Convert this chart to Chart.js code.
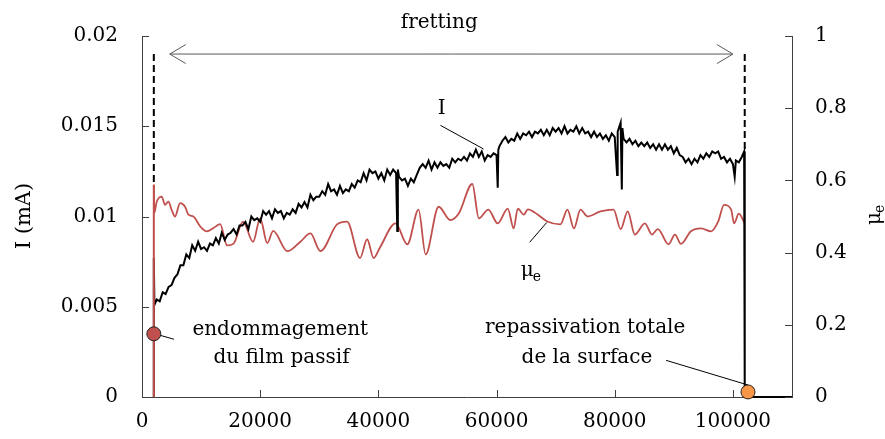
<!DOCTYPE html>
<html lang="fr">
<head>
<meta charset="UTF-8">
<title>Courant et coefficient de frottement</title>
<script src="https://cdn.jsdelivr.net/npm/chart.js"></script>
<style>
  html, body { margin: 0; padding: 0; background: #fff; }
  #wrap { width: 885px; height: 439px; position: relative; }
</style>
</head>
<body>
<div id="wrap"><canvas id="chart"></canvas></div>
<script>
// axis ticks
const xTicks = [0, 20000, 40000, 60000, 80000, 100000];
const leftTicks = [0, 0.005, 0.01, 0.015, 0.02];
const leftLabels = ['0', '0.005', '0.01', '0.015', '0.02'];
const rightTicks = [0, 0.2, 0.4, 0.6, 0.8, 1];

// current I (mA) vs time
const iTime = [
  2000, 2000, 2100, 2500, 3000, 3500, 4000, 4500, 5000, 5500,
  6000, 6500, 7000, 7500, 8000, 8500, 9000, 9500, 10000, 10500,
  11000, 11500, 12000, 12500, 13000, 13500, 14000, 14500, 15000, 15500,
  16000, 16500, 17000, 17500, 18000, 18500, 19000, 19500, 20000, 20500,
  21000, 21500, 22000, 22500, 23000, 23500, 24000, 24500, 25000, 25500,
  26000, 26500, 27000, 27500, 28000, 28500, 29000, 29500, 30000, 30500,
  31000, 31500, 32000, 32500, 33000, 33500, 34000, 34500, 35000, 35500,
  36000, 36500, 37000, 37500, 38000, 38500, 39000, 39500, 40000, 40500,
  41000, 41500, 42000, 42500, 43000, 43200, 43300, 43500, 44000, 44500,
  45000, 45500, 46000, 46500, 47000, 47500, 48000, 48500, 49000, 49500,
  50000, 50500, 51000, 51500, 52000, 52500, 53000, 53500, 54000, 54500,
  55000, 55500, 56000, 56500, 57000, 57500, 58000, 58500, 59000, 59500,
  60000, 60200, 60300, 60500, 61000, 61500, 62000, 62500, 63000, 63500,
  64000, 64500, 65000, 65500, 66000, 66500, 67000, 67500, 68000, 68500,
  69000, 69500, 70000, 70500, 71000, 71500, 72000, 72500, 73000, 73500,
  74000, 74500, 75000, 75500, 76000, 76500, 77000, 77500, 78000, 78500,
  79000, 79500, 80000, 80400, 80500, 81000, 81200, 81300, 81500, 82000,
  82500, 83000, 83500, 84000, 84500, 85000, 85500, 86000, 86500, 87000,
  87500, 88000, 88500, 89000, 89500, 90000, 90500, 91000, 91500, 92000,
  92500, 93000, 93500, 94000, 94500, 95000, 95500, 96000, 96500, 97000,
  97500, 98000, 98500, 99000, 99500, 100000, 100300, 100500, 101000, 101500,
  101900, 102000, 110000
];
const iCurrent = [
  0, 0.0077, 0.0051, 0.0054, 0.0053, 0.0058, 0.0057, 0.0061, 0.0062, 0.0066,
  0.0068, 0.0073, 0.0073, 0.0079, 0.0077, 0.0084, 0.0081, 0.0086, 0.0082, 0.0083,
  0.0081, 0.0085, 0.0084, 0.0088, 0.0085, 0.0091, 0.0087, 0.0090, 0.0091, 0.0093,
  0.0090, 0.0095, 0.0095, 0.0097, 0.0093, 0.0100, 0.0098, 0.0099, 0.0097, 0.0103,
  0.0101, 0.0103, 0.0099, 0.0104, 0.0102, 0.0103, 0.0099, 0.0102, 0.0101, 0.0104,
  0.0102, 0.0107, 0.0105, 0.0108, 0.0105, 0.0112, 0.0109, 0.0111, 0.0111, 0.0114,
  0.0112, 0.0118, 0.0114, 0.0115, 0.0112, 0.0117, 0.0113, 0.0115, 0.0114, 0.0118,
  0.0116, 0.0120, 0.0119, 0.0124, 0.0120, 0.0126, 0.0124, 0.0125, 0.0121, 0.0124,
  0.0120, 0.0126, 0.0123, 0.0126, 0.0124, 0.0092, 0.0126, 0.0122, 0.0120, 0.0121,
  0.0117, 0.0121, 0.0119, 0.0123, 0.0127, 0.0129, 0.0127, 0.0131, 0.0126, 0.0130,
  0.0127, 0.0130, 0.0128, 0.0129, 0.0127, 0.0132, 0.0130, 0.0132, 0.0131, 0.0133,
  0.0131, 0.0135, 0.0133, 0.0137, 0.0133, 0.0136, 0.0131, 0.0134, 0.0133, 0.0135,
  0.0134, 0.0116, 0.0137, 0.0139, 0.0142, 0.0144, 0.0141, 0.0143, 0.0142, 0.0146,
  0.0143, 0.0146, 0.0145, 0.0147, 0.0144, 0.0147, 0.0146, 0.0148, 0.0145, 0.0148,
  0.0145, 0.0149, 0.0147, 0.0149, 0.0146, 0.0150, 0.0146, 0.0148, 0.0147, 0.0150,
  0.0146, 0.0149, 0.0146, 0.0147, 0.0144, 0.0147, 0.0144, 0.0146, 0.0143, 0.0145,
  0.0142, 0.0146, 0.0144, 0.0123, 0.0147, 0.0152, 0.0115, 0.0149, 0.0143, 0.0141,
  0.0143, 0.0140, 0.0142, 0.0139, 0.0141, 0.0139, 0.0141, 0.0138, 0.0140, 0.0137,
  0.0140, 0.0137, 0.0140, 0.0137, 0.0139, 0.0135, 0.0138, 0.0134, 0.0133, 0.0130,
  0.0132, 0.0129, 0.0132, 0.0130, 0.0134, 0.0132, 0.0135, 0.0133, 0.0136, 0.0135,
  0.0136, 0.0132, 0.0133, 0.0130, 0.0132, 0.0129, 0.0122, 0.0131, 0.0130, 0.0133,
  0.0136, 0, 0
];

// friction coefficient mu_e vs time (first two points = vertical rise)
const muTime = [
  2000, 2000, 2080, 2490, 3340, 3900, 4460, 5030, 5590, 6440,
  7290, 7850, 8700, 9830, 10960, 12090, 13220, 14400, 15500, 17100,
  18800, 20000, 21200, 22200, 24600, 26800, 28500, 30200, 33000, 34700,
  36900, 38100, 39200, 40300, 42900, 44900, 46800, 48000, 50200, 52200,
  53600, 55900, 57000, 58600, 60200, 61900, 62900, 63600, 64600, 65300,
  67000, 68600, 70800, 72000, 73100, 74200, 75400, 77600, 79800, 81000,
  82200, 83400, 85100, 86300, 87300, 89100, 90200, 91200, 92900, 94600,
  96300, 97500, 98500, 99700, 100200, 101000, 102000
];
const muValues = [
  0, 0.588, 0.51, 0.541, 0.555, 0.532, 0.541, 0.518, 0.50, 0.537,
  0.527, 0.505, 0.50, 0.473, 0.459, 0.468, 0.479, 0.42, 0.425, 0.486,
  0.43, 0.495, 0.426, 0.46, 0.404, 0.43, 0.453, 0.404, 0.478, 0.486,
  0.385, 0.437, 0.385, 0.415, 0.481, 0.423, 0.519, 0.395, 0.527, 0.49,
  0.508, 0.59, 0.495, 0.519, 0.481, 0.522, 0.467, 0.522, 0.505, 0.52,
  0.505, 0.486, 0.478, 0.519, 0.467, 0.519, 0.50, 0.514, 0.519, 0.465,
  0.514, 0.45, 0.481, 0.45, 0.465, 0.423, 0.45, 0.424, 0.459, 0.467,
  0.459, 0.486, 0.532, 0.519, 0.481, 0.508, 0.481
];

const FONT = "'DejaVu Serif', serif";
const AXIS_COLOR = '#404040';

const toPoints = (xs, ys) => xs.map((t, k) => ({ x: t, y: ys[k] }));

// dashed lines, arrow, labels, markers
const notesPlugin = {
  id: 'notes',
  afterDraw(chart) {
    const { ctx, chartArea, scales } = chart;
    const x = scales.x, yI = scales.yI, yMu = scales.yMu;
    const px = v => x.getPixelForValue(v);
    const pyI = v => yI.getPixelForValue(v);

    ctx.save();

    // inward tick marks
    ctx.strokeStyle = AXIS_COLOR;
    ctx.lineWidth = 1;
    ctx.beginPath();
    leftTicks.forEach(v => {
      const y = Math.round(pyI(v)) + 0.5;
      ctx.moveTo(chartArea.left, y); ctx.lineTo(chartArea.left + 7, y);
    });
    rightTicks.forEach(v => {
      const y = Math.round(yMu.getPixelForValue(v)) + 0.5;
      ctx.moveTo(chartArea.right, y); ctx.lineTo(chartArea.right - 7, y);
    });
    xTicks.forEach(v => {
      const xx = Math.round(px(v)) + 0.5;
      ctx.moveTo(xx, chartArea.bottom); ctx.lineTo(xx, chartArea.bottom - 7);
    });
    ctx.stroke();

    // dashed markers for start/end of fretting
    ctx.strokeStyle = '#000';
    ctx.lineWidth = 2;
    ctx.setLineDash([7, 4]);
    ctx.beginPath();
    ctx.moveTo(px(2000), pyI(0.019)); ctx.lineTo(px(2000), pyI(0.0117));
    ctx.moveTo(px(102000), pyI(0.019)); ctx.lineTo(px(102000), pyI(0.0135));
    ctx.stroke();
    ctx.setLineDash([]);

    // double arrow "fretting"
    const ay = pyI(0.019), ax0 = px(4700), ax1 = px(100000);
    ctx.strokeStyle = '#595959';
    ctx.lineWidth = 1;
    ctx.beginPath();
    ctx.moveTo(ax0, ay); ctx.lineTo(ax1, ay);
    ctx.moveTo(ax0 + 16, ay - 9.5); ctx.lineTo(ax0, ay); ctx.lineTo(ax0 + 16, ay + 9.5);
    ctx.moveTo(ax1 - 16, ay - 9.5); ctx.lineTo(ax1, ay); ctx.lineTo(ax1 - 16, ay + 9.5);
    ctx.stroke();

    // pointer lines
    ctx.strokeStyle = '#000';
    ctx.lineWidth = 1;
    ctx.beginPath();
    ctx.moveTo(px(50500), pyI(0.01505)); ctx.lineTo(px(57800), pyI(0.01374));
    ctx.moveTo(px(65600), yMu.getPixelForValue(0.4286)); ctx.lineTo(px(68500), yMu.getPixelForValue(0.4835));
    ctx.moveTo(px(3050), pyI(0.00342)); ctx.lineTo(px(5400), pyI(0.0032));
    ctx.moveTo(px(88700), pyI(0.00203)); ctx.lineTo(px(102600), pyI(0.00066));
    ctx.stroke();

    // markers
    const dot = (t, v, fill) => {
      ctx.beginPath();
      ctx.arc(px(t), pyI(v), 7, 0, Math.PI * 2);
      ctx.fillStyle = fill; ctx.fill();
      ctx.strokeStyle = '#222'; ctx.lineWidth = 1; ctx.stroke();
    };
    dot(2000, 0.0035, '#c0504d');
    dot(102550, 0.00028, '#f79646');

    // texts
    ctx.fillStyle = '#000';
    ctx.font = '20px ' + FONT;
    ctx.textAlign = 'center';
    ctx.textBaseline = 'alphabetic';
    ctx.fillText('fretting', px(50300), 28);
    ctx.fillText('I', px(50700), pyI(0.01566));
    ctx.fillText('endommagement', px(23400), pyI(0.00346));
    ctx.fillText('du film passif', px(23600), pyI(0.00187));
    ctx.fillText('repassivation totale', px(75000), pyI(0.00357));
    ctx.fillText('de la surface', px(75300), pyI(0.00187));

    // mu_e in plot
    const muX = px(65100), muY = yMu.getPixelForValue(0.335);
    ctx.textAlign = 'left';
    ctx.fillText('\u03bc', muX - 6, muY);
    ctx.font = '14px ' + FONT;
    ctx.fillText('e', muX + 6, muY + 5);

    // axis titles
    ctx.font = '21px ' + FONT;
    ctx.save();
    ctx.translate(25, 216);
    ctx.rotate(-Math.PI / 2);
    ctx.textAlign = 'center';
    ctx.textBaseline = 'middle';
    ctx.fillText('I (mA)', 0, 0);
    ctx.restore();

    ctx.save();
    ctx.translate(880, 225);
    ctx.rotate(-Math.PI / 2);
    ctx.textAlign = 'left';
    ctx.textBaseline = 'alphabetic';
    ctx.font = '20px ' + FONT;
    ctx.fillText('\u03bc', 0, 0);
    ctx.font = '14px ' + FONT;
    ctx.fillText('e', 12, 4);
    ctx.restore();

    ctx.restore();
  }
};

new Chart(document.getElementById('chart'), {
  type: 'line',
  data: {
    datasets: [
      {
        label: 'I',
        data: toPoints(iTime, iCurrent),
        yAxisID: 'yI',
        borderColor: '#000',
        borderWidth: 2,
        pointRadius: 0,
        tension: 0,
        clip: false
      },
      {
        label: 'mu rise',
        data: toPoints(muTime.slice(0, 2), muValues.slice(0, 2)),
        yAxisID: 'yMu',
        borderColor: '#c0504d',
        borderWidth: 2,
        pointRadius: 0,
        tension: 0,
        order: -1,
        clip: false
      },
      {
        label: 'mu_e',
        data: toPoints(muTime.slice(1), muValues.slice(1)),
        yAxisID: 'yMu',
        borderColor: '#c0504d',
        borderWidth: 1.8,
        pointRadius: 0,
        cubicInterpolationMode: 'monotone',
        clip: false
      }
    ]
  },
  options: {
    responsive: true,
    maintainAspectRatio: false,
    animation: false,
    events: [],
    layout: { padding: { top: 33, left: 0, right: 0, bottom: 0 } },
    plugins: { legend: { display: false }, tooltip: { enabled: false } },
    scales: {
      x: {
        type: 'linear',
        min: 0,
        max: 110000,
        afterFit: s => { s.height = 42; },
        afterBuildTicks: s => { s.ticks = xTicks.map(v => ({ value: v })); },
        grid: { display: false, drawTicks: false },
        border: { display: true, color: AXIS_COLOR, width: 1 },
        ticks: {
          maxRotation: 0,
          padding: 13,
          color: '#000',
          font: { family: FONT, size: 20 },
          callback: v => String(v)
        }
      },
      yI: {
        type: 'linear',
        position: 'left',
        min: 0,
        max: 0.02,
        afterFit: s => { s.width = 142; },
        afterBuildTicks: s => { s.ticks = leftTicks.map(v => ({ value: v })); },
        grid: { display: false, drawTicks: false },
        border: { display: true, color: AXIS_COLOR, width: 1 },
        ticks: {
          padding: 24,
          color: '#000',
          font: { family: FONT, size: 20 },
          callback: (v, k) => leftLabels[k]
        }
      },
      yMu: {
        type: 'linear',
        position: 'right',
        min: 0,
        max: 1,
        afterFit: s => { s.width = 93; },
        afterBuildTicks: s => { s.ticks = rightTicks.map(v => ({ value: v })); },
        grid: { display: false, drawTicks: false },
        border: { display: true, color: AXIS_COLOR, width: 1 },
        ticks: {
          padding: 23,
          color: '#000',
          font: { family: FONT, size: 20 },
          callback: v => String(v)
        }
      }
    }
  },
  plugins: [notesPlugin]
});
</script>
</body>
</html>
